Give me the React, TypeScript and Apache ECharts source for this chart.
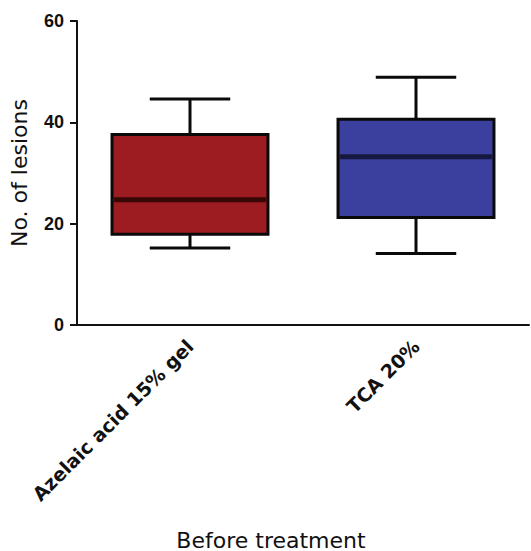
import React, { useEffect, useRef } from "react";
import * as echarts from "echarts";

const categories = ["Azelaic acid 15% gel", "TCA 20%"];
const whiskerLow = [15.2, 14.1];
const q1 = [17.9, 21.2];
const median = [24.7, 33.2];
const q3 = [37.6, 40.6];
const whiskerHigh = [44.6, 48.9];
const yTicks = [0, 20, 40, 60];
const xTitle = "Before treatment";
const yTitle = "No. of lesions";

const fills = ["#9c1c22", "#3b3f9e"];
const medianColors = ["#3a0707", "#17183f"];

export default function App() {
  const ref = useRef<HTMLDivElement>(null);
  useEffect(() => {
    document.body.style.margin = "0";
    const chart = echarts.init(ref.current!, null, { renderer: "svg" });
    const data = categories.map((_, i) => [i, whiskerLow[i], q1[i], median[i], q3[i], whiskerHigh[i]]);
    chart.setOption({
      animation: false,
      backgroundColor: "#ffffff",
      grid: { left: 76, right: 2, top: 21, bottom: 226 },
      xAxis: {
        type: "category",
        data: categories,
        axisLine: { lineStyle: { color: "#111", width: 2 } },
        axisTick: { alignWithLabel: true, length: 6, lineStyle: { color: "#111", width: 2 } },
        axisLabel: {
          rotate: 45,
          margin: 18,
          color: "#111",
          fontFamily: "DejaVu Sans",
          fontWeight: "bold",
          fontSize: 19,
        },
        splitLine: { show: false },
      },
      yAxis: {
        type: "value",
        min: yTicks[0],
        max: yTicks[yTicks.length - 1],
        interval: 20,
        name: yTitle,
        nameLocation: "middle",
        nameGap: 47,
        nameTextStyle: { color: "#111", fontFamily: "DejaVu Sans", fontSize: 22 },
        axisLine: { show: true, lineStyle: { color: "#111", width: 2 } },
        axisTick: { show: true, length: 7, lineStyle: { color: "#111", width: 2 } },
        axisLabel: {
          margin: 13,
          color: "#111",
          fontFamily: "Liberation Sans",
          fontWeight: "bold",
          fontSize: 18,
        },
        splitLine: { show: false },
      },
      graphic: [
        {
          type: "text",
          x: 271,
          y: 540,
          style: {
            text: xTitle,
            fill: "#111",
            font: "22px 'DejaVu Sans'",
            textAlign: "center",
            textVerticalAlign: "middle",
          },
        },
      ],
      series: [
        {
          type: "custom",
          data,
          encode: { x: 0, y: [1, 2, 3, 4, 5] },
          renderItem: (params: any, api: any) => {
            const i = api.value(0);
            const bw = api.size([1, 0])[0];
            const half = bw * 0.345;
            const capHalf = bw * 0.178;
            const pLow = api.coord([i, api.value(1)]);
            const pQ1 = api.coord([i, api.value(2)]);
            const pMed = api.coord([i, api.value(3)]);
            const pQ3 = api.coord([i, api.value(4)]);
            const pHigh = api.coord([i, api.value(5)]);
            const cx = pQ1[0];
            const lw = 3;
            const stroke = "#0a0a0a";
            return {
              type: "group",
              children: [
                { type: "line", shape: { x1: cx, y1: pQ3[1], x2: cx, y2: pHigh[1] }, style: { stroke, lineWidth: lw } },
                { type: "line", shape: { x1: cx - capHalf, y1: pHigh[1], x2: cx + capHalf, y2: pHigh[1] }, style: { stroke, lineWidth: lw } },
                { type: "line", shape: { x1: cx, y1: pQ1[1], x2: cx, y2: pLow[1] }, style: { stroke, lineWidth: lw } },
                { type: "line", shape: { x1: cx - capHalf, y1: pLow[1], x2: cx + capHalf, y2: pLow[1] }, style: { stroke, lineWidth: lw } },
                {
                  type: "rect",
                  shape: { x: cx - half, y: pQ3[1], width: half * 2, height: pQ1[1] - pQ3[1] },
                  style: { fill: fills[i], stroke, lineWidth: lw },
                },
                {
                  type: "line",
                  shape: { x1: cx - half + 2, y1: pMed[1], x2: cx + half - 2, y2: pMed[1] },
                  style: { stroke: medianColors[i], lineWidth: 5 },
                },
              ],
            };
          },
        },
      ],
    });
    return () => chart.dispose();
  }, []);
  return <div ref={ref} style={{ width: 531, height: 551 }} />;
}
